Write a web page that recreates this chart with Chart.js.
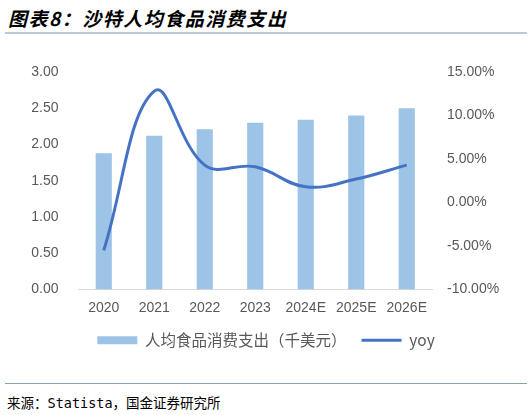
<!DOCTYPE html>
<html>
<head>
<meta charset="utf-8">
<script src="https://cdn.jsdelivr.net/npm/chart.js@4"></script>
<style>
  body { margin: 0; background: #fff; }
  #wrap { position: relative; width: 532px; height: 415px; background: #fff; overflow: hidden; }
  .title {
    position: absolute; left: 8px; top: 4px;
    font-family: "Noto Sans CJK SC", sans-serif; font-size: 19px; font-weight: bold; font-style: italic;
    letter-spacing: 1.5px; color: #000; white-space: nowrap;
  }
  .rule-top { position: absolute; left: 5px; top: 32px; width: 522px; height: 2px; background: #b8ccd8; }
  .rule-bottom { position: absolute; left: 5px; top: 383px; width: 522px; height: 1px; background: #8aa2b0; }
  .source {
    position: absolute; left: 7px; top: 392px;
    font-family: "DejaVu Sans Mono", "Noto Sans CJK SC", monospace; font-size: 13.5px; color: #000; white-space: nowrap;
  }
  .box { position: absolute; left: 0; top: 40px; width: 532px; height: 335px; }
</style>
</head>
<body>
<div id="wrap">
  <div class="title">图表8：沙特人均食品消费支出</div>
  <div class="rule-top"></div>
  <div class="box"><canvas id="chart"></canvas></div>
  <div class="rule-bottom"></div>
  <div class="source">来源：Statista，国金证券研究所</div>
</div>
<script>
const years = ["2020", "2021", "2022", "2023", "2024E", "2025E", "2026E"];
// 人均食品消费支出（千美元）
const spending = [1.88, 2.12, 2.21, 2.30, 2.34, 2.40, 2.50];
// yoy, in %
const yoy = [-5.5, 12.8, 4.3, 4.1, 1.8, 2.7, 4.3];

const barLabel = "人均食品消费支出（千美元）";
const lineLabel = "yoy";

const ctx = document.getElementById("chart").getContext("2d");
const tickColor = "#595959";

const chart = new Chart(ctx, {
  data: {
    labels: years,
    datasets: [
      {
        type: "bar",
        label: barLabel,
        data: spending,
        yAxisID: "y",
        backgroundColor: "#9dc3e6",
        borderWidth: 0,
        barPercentage: 0.32,
        categoryPercentage: 1.0,
        order: 1,
      },
      {
        type: "line",
        label: lineLabel,
        data: yoy,
        yAxisID: "y1",
        borderColor: "#4472c4",
        backgroundColor: "#4472c4",
        borderWidth: 3,
        pointRadius: 0,
        tension: 0.4,
        fill: false,
        order: 0,
      },
    ],
  },
  options: {
    responsive: true,
    maintainAspectRatio: false,
    animation: false,
    layout: { padding: { top: 32, bottom: 17, left: 0, right: 0 } },
    plugins: {
      tooltip: { enabled: false },
      legend: {
        position: "bottom",
        labels: {
          usePointStyle: true,
          pointStyleWidth: 40,
          boxHeight: 8,
          padding: 15,
          color: tickColor,
          font: { family: "'Noto Sans CJK SC', sans-serif", size: 15.5 },
          sort: (a, b) => a.datasetIndex - b.datasetIndex,
          generateLabels: (c) => {
            const items = Chart.defaults.plugins.legend.labels.generateLabels(c);
            items.forEach((it) => {
              if (it.datasetIndex === 0) {
                it.pointStyle = "rect";
                it.lineWidth = 0;
                it.fillStyle = "#9dc3e6";
                it.strokeStyle = "#9dc3e6";
              } else {
                it.pointStyle = "line";
                it.lineWidth = 3;
                it.strokeStyle = "#4472c4";
              }
            });
            return items;
          },
        },
      },
    },
    scales: {
      x: {
        grid: { display: false, drawTicks: false },
        border: { display: true, color: "#d9d9d9", width: 1 },
        ticks: {
          color: tickColor,
          padding: 10,
          font: { family: "'Liberation Sans', Arial, sans-serif", size: 14 },
          maxRotation: 0,
        },
        afterFit: (s) => { s.height = 28; },
      },
      y: {
        position: "left",
        min: 0,
        max: 3,
        grid: { display: false, drawTicks: false },
        border: { display: false },
        ticks: {
          stepSize: 0.5,
          color: tickColor,
          padding: 20,
          font: { family: "'Liberation Sans', Arial, sans-serif", size: 14 },
          callback: (v) => v.toFixed(2),
        },
        afterFit: (s) => { s.width = 78.5; },
      },
      y1: {
        position: "right",
        min: -10,
        max: 15,
        grid: { display: false, drawTicks: false },
        border: { display: false },
        ticks: {
          stepSize: 5,
          color: tickColor,
          padding: 15,
          font: { family: "'Liberation Sans', Arial, sans-serif", size: 14 },
          callback: (v) => v.toFixed(2) + "%",
        },
        afterFit: (s) => { s.width = 100; },
      },
    },
  },
});
</script>
</body>
</html>
